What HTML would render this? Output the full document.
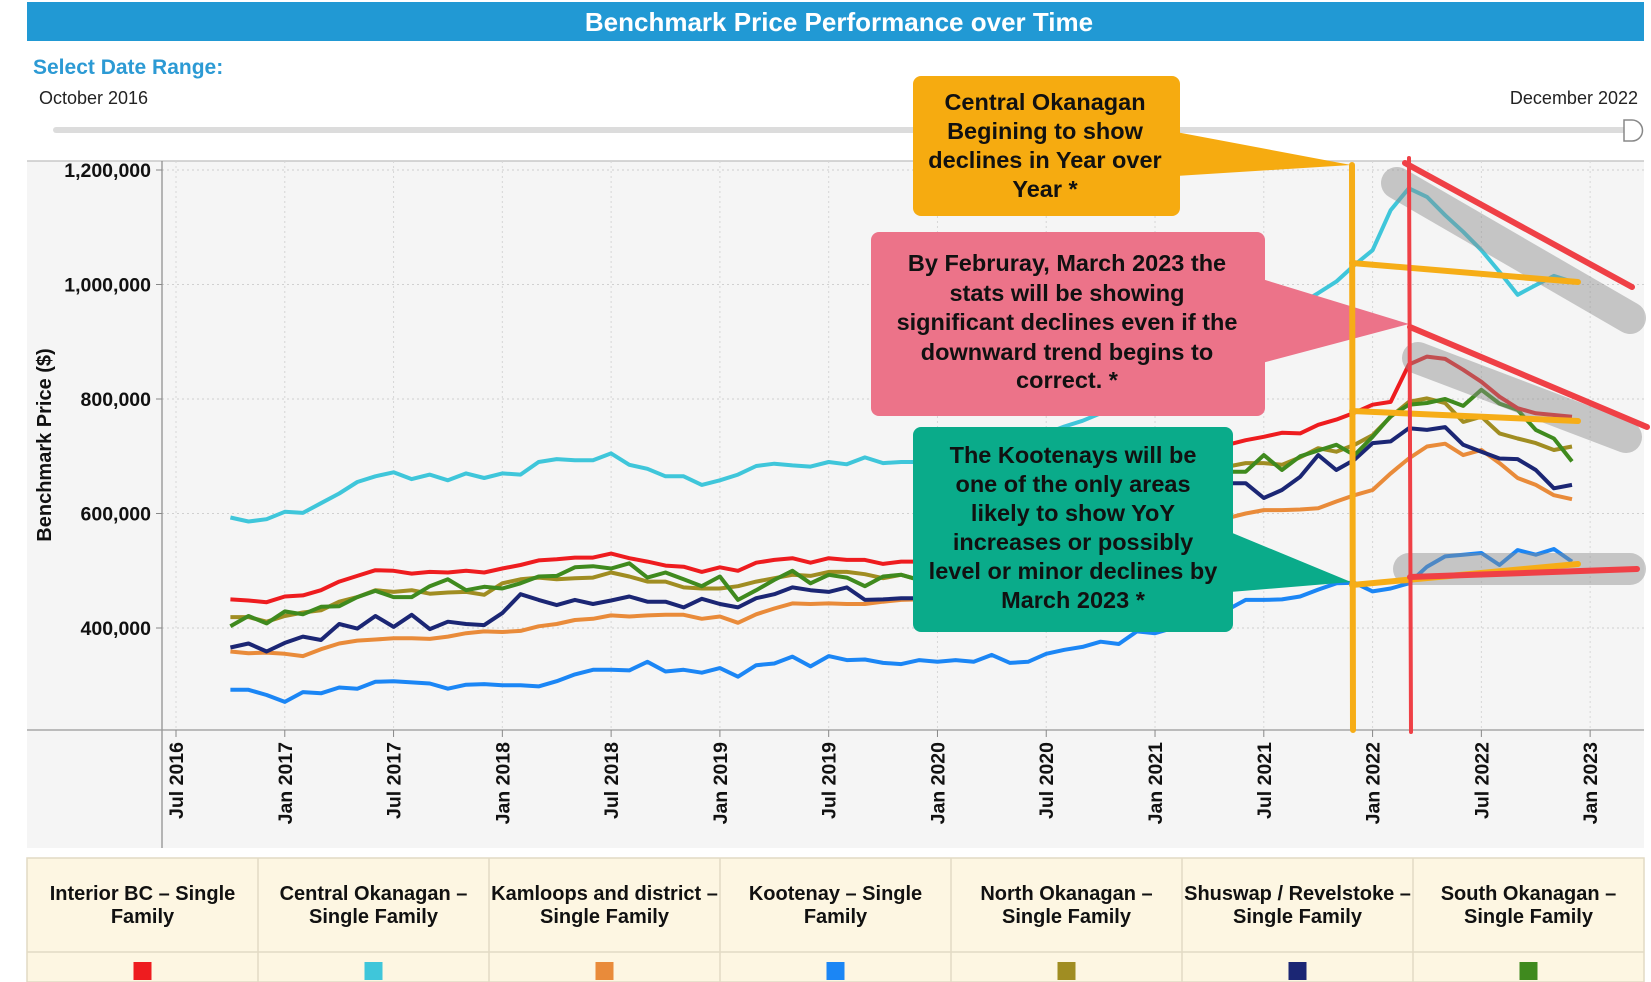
<!DOCTYPE html>
<html><head><meta charset="utf-8">
<style>
html,body{margin:0;padding:0;background:#fff;}
svg{display:block;font-family:"Liberation Sans",Arial,sans-serif;}
</style></head>
<body>
<svg id="chart" width="1651" height="982" viewBox="0 0 1651 982">
  <rect x="27" y="2" width="1617" height="39" fill="#2199d4"/>
  <text x="839" y="31" text-anchor="middle" font-size="26" font-weight="bold" fill="#fff">Benchmark Price Performance over Time</text>
  <text x="33" y="74" font-size="21" font-weight="bold" fill="#2c9ad4">Select Date Range:</text>
  <text x="39" y="104" font-size="18" fill="#222">October 2016</text>
  <text x="1638" y="104" text-anchor="end" font-size="18" fill="#222">December 2022</text>
  <rect x="53" y="127" width="1580" height="6" rx="3" fill="#dcdcdc"/>
  <path d="M1624 120 h8 a10 10 0 0 1 0 21 h-8 z" fill="#fff" stroke="#888" stroke-width="1.5"/>
  <rect x="27" y="161" width="1617" height="687" fill="#f5f5f5"/>
  <line x1="27" y1="161" x2="1644" y2="161" stroke="#c8c8c8" stroke-width="1.5"/>
  <g id="grid"></g>
  <line x1="162" y1="161" x2="162" y2="848" stroke="#888" stroke-width="1.2"/>
  <line x1="27" y1="730" x2="1644" y2="730" stroke="#999" stroke-width="1.2"/>
  <text transform="translate(51,445) rotate(-90)" text-anchor="middle" font-size="20" font-weight="bold" fill="#111">Benchmark Price ($)</text>
  <g id="yticks"></g>
  <g id="xticks"></g>
  <g id="series"></g>

  <g>
    <g stroke="rgba(140,140,140,0.45)" stroke-width="32" stroke-linecap="round" fill="none">
      <line x1="1397" y1="183" x2="1630" y2="318"/>
      <line x1="1418" y1="358" x2="1626" y2="437"/>
      <line x1="1409" y1="569" x2="1630" y2="569"/>
    </g>
    <rect x="913" y="76" width="267" height="140" rx="8" fill="#f6ab10"/>
    <polygon points="1176,132 1176,176 1351,165" fill="#f6ab10"/>
    <g font-size="23.5" font-weight="bold" fill="#111" text-anchor="middle">
      <text x="1045" y="110">Central Okanagan</text>
      <text x="1045" y="139">Begining to show</text>
      <text x="1045" y="168">declines in Year over</text>
      <text x="1045" y="197">Year *</text>
    </g>
    <rect x="871" y="232" width="394" height="184" rx="8" fill="#ec7389"/>
    <polygon points="1262,279 1262,363 1409,324" fill="#ec7389"/>
    <g font-size="23.5" font-weight="bold" fill="#111" text-anchor="middle">
      <text x="1067" y="271">By Februray, March 2023 the</text>
      <text x="1067" y="301">stats will be showing</text>
      <text x="1067" y="330">significant declines even if the</text>
      <text x="1067" y="360">downward trend begins to</text>
      <text x="1067" y="388">correct. *</text>
    </g>
    <rect x="913" y="427" width="320" height="205" rx="8" fill="#0aab8a"/>
    <polygon points="1230,532 1230,592 1351,582" fill="#0aab8a"/>
    <g font-size="23.5" font-weight="bold" fill="#111" text-anchor="middle">
      <text x="1073" y="463">The Kootenays will be</text>
      <text x="1073" y="492">one of the only areas</text>
      <text x="1073" y="521">likely to show YoY</text>
      <text x="1073" y="550">increases or possibly</text>
      <text x="1073" y="579">level or minor declines by</text>
      <text x="1073" y="608">March 2023 *</text>
    </g>
    <g stroke="#f6ad17" stroke-width="6" stroke-linecap="round">
      <line x1="1352" y1="165" x2="1353" y2="730"/>
      <line x1="1352" y1="263" x2="1578" y2="282"/>
      <line x1="1352" y1="411" x2="1578" y2="421"/>
      <line x1="1352" y1="585" x2="1578" y2="564"/>
    </g>
    <g stroke="#ef4046" stroke-width="5" stroke-linecap="round">
      <line x1="1409" y1="158" x2="1411" y2="732" stroke-width="4"/>
      <line x1="1405" y1="163" x2="1632" y2="287" stroke-width="6"/>
      <line x1="1410" y1="327" x2="1647" y2="427" stroke-width="6"/>
      <line x1="1410" y1="577" x2="1637" y2="569" stroke-width="6"/>
    </g>
  </g>

  <g id="legend">
    <rect x="27" y="858" width="1617" height="124" fill="#fdf6e2" stroke="#e2dac4" stroke-width="1.5"/>
    <line x1="27" y1="952" x2="1644" y2="952" stroke="#e2dac4" stroke-width="1.5"/>
  </g>
</svg>
<script>
const months = 75; // Oct 2016 .. Dec 2022
const xTickLabels = ["Jul 2016","Jan 2017","Jul 2017","Jan 2018","Jul 2018","Jan 2019","Jul 2019","Jan 2020","Jul 2020","Jan 2021","Jul 2021","Jan 2022","Jul 2022","Jan 2023"];
const yTickValues = [400000,600000,800000,1000000,1200000];
const yTickLabels = ["400,000","600,000","800,000","1,000,000","1,200,000"];
const seriesNames = ["Interior BC – Single Family","Central Okanagan – Single Family","Kamloops and district – Single Family","Kootenay – Single Family","North Okanagan – Single Family","Shuswap / Revelstoke – Single Family","South Okanagan – Single Family"];
const seriesColors = ["#ee1c1f","#3fc6da","#e98b3a","#1b86f5","#a08d22","#1b2674","#3f8a1e"];
const interiorBC = [450,448,445,455,457,466,481,491,501,500,495,498,497,500,497,504,510,518,520,523,523,530,522,516,509,507,498,506,500,514,519,522,514,522,519,519,512,516,516,520,525,530,540,548,560,575,590,605,620,640,655,670,685,695,705,720,728,734,741,740,755,764,776,790,795,860,874,870,851,830,804,784,775,772,769];
const centralOkanagan = [593,586,590,603,601,618,635,655,665,672,660,668,658,670,662,670,668,690,695,693,693,705,685,678,665,665,650,658,668,683,687,684,682,690,686,698,688,690,690,695,700,695,705,715,725,740,752,762,775,790,805,825,850,880,905,935,960,970,985,966,985,1005,1034,1060,1130,1168,1153,1121,1092,1060,1022,982,999,1015,1005];
const kamloops = [359,356,357,355,351,363,373,378,380,382,382,381,385,391,394,393,395,403,407,414,416,422,420,422,423,423,416,420,409,424,434,443,442,443,442,442,446,449,450,452,455,458,462,468,475,485,495,505,515,525,540,555,565,575,585,592,600,606,606,607,609,621,632,641,670,696,717,722,702,711,688,662,650,632,625];
const kootenay = [292,292,283,271,288,286,296,294,306,307,305,303,294,301,302,300,300,298,307,319,327,327,326,341,324,327,322,330,315,335,338,350,333,351,344,345,339,337,344,341,344,341,353,339,341,355,362,367,376,372,394,391,400,415,430,432,449,449,450,455,467,478,479,464,469,478,507,525,528,531,510,536,528,538,516];
const northOkanagan = [419,419,411,421,427,431,446,454,466,463,466,460,462,463,458,478,485,488,485,487,488,497,490,481,481,471,469,469,473,481,487,493,491,498,498,494,487,493,484,490,495,500,505,515,525,540,555,570,590,605,620,635,650,660,672,682,688,688,685,698,714,708,720,737,769,795,801,793,760,769,740,731,723,711,717];
const shuswap = [366,373,359,374,385,379,407,399,421,402,423,398,411,407,405,426,459,449,440,449,442,448,455,446,446,436,451,442,436,452,459,471,466,463,471,449,450,452,452,455,460,465,470,478,488,500,515,530,545,560,578,595,610,625,640,653,653,627,641,664,702,676,694,723,726,749,746,751,720,708,696,695,676,644,650];
const southOkanagan = [403,421,408,429,424,437,438,454,465,454,454,473,485,466,472,469,478,490,491,506,508,504,513,488,497,485,473,490,449,466,484,500,478,493,488,473,490,493,484,488,492,498,505,512,522,535,550,565,585,600,615,630,645,655,665,673,673,702,676,700,710,720,702,734,770,790,793,800,788,816,792,781,746,731,691];

const NS = "http://www.w3.org/2000/svg";
function xScale(m){ return 176 + m * 18.13; }
function yScale(v){ return 170 + (1200000 - v) / 1000 * 0.5725; }

const grid = document.getElementById('grid');
const yt = document.getElementById('yticks');
yTickValues.forEach((v, i) => {
  const y = yScale(v);
  const l = document.createElementNS(NS, 'line');
  l.setAttribute('x1', 162); l.setAttribute('x2', 1644);
  l.setAttribute('y1', y); l.setAttribute('y2', y);
  l.setAttribute('stroke', '#d0d0d0'); l.setAttribute('stroke-dasharray', '2 3');
  
  
  grid.appendChild(l);
  const tk = document.createElementNS(NS, 'line');
  tk.setAttribute('x1', 156); tk.setAttribute('x2', 162);
  tk.setAttribute('y1', y); tk.setAttribute('y2', y);
  tk.setAttribute('stroke', '#888');
  yt.appendChild(tk);
  const t = document.createElementNS(NS, 'text');
  t.setAttribute('x', 151); t.setAttribute('y', y + 7);
  t.setAttribute('text-anchor', 'end'); t.setAttribute('font-size', '19.5');
  t.setAttribute('font-weight', 'bold'); t.setAttribute('fill', '#111');
  t.textContent = yTickLabels[i];
  
  
  yt.appendChild(t);
});
const xt = document.getElementById('xticks');
xTickLabels.forEach((lab, i) => {
  const x = xScale(i * 6);
  const l = document.createElementNS(NS, 'line');
  l.setAttribute('x1', x); l.setAttribute('x2', x);
  l.setAttribute('y1', 161); l.setAttribute('y2', 730);
  l.setAttribute('stroke', '#d6d6d6'); l.setAttribute('stroke-dasharray', '2 3');
  
  
  grid.appendChild(l);
  const tk = document.createElementNS(NS, 'line');
  tk.setAttribute('x1', x); tk.setAttribute('x2', x);
  tk.setAttribute('y1', 730); tk.setAttribute('y2', 737);
  tk.setAttribute('stroke', '#888');
  xt.appendChild(tk);
  const t = document.createElementNS(NS, 'text');
  t.setAttribute('transform', `translate(${x + 7},742) rotate(-90)`);
  t.setAttribute('text-anchor', 'end'); t.setAttribute('font-size', '19.5');
  t.setAttribute('font-weight', 'bold'); t.setAttribute('fill', '#111');
  t.textContent = lab;
  
  
  xt.appendChild(t);
});

const allSeries = [interiorBC, centralOkanagan, kamloops, kootenay, northOkanagan, shuswap, southOkanagan];
const drawOrder = [1, 3, 2, 5, 4, 6, 0];
const sg = document.getElementById('series');
drawOrder.forEach(si => {
  const data = allSeries[si];
  const pts = data.map((v, k) => xScale(k + 3).toFixed(1) + ',' + yScale(v * 1000).toFixed(1)).join(' ');
  const p = document.createElementNS(NS, 'polyline');
  p.setAttribute('points', pts);
  p.setAttribute('fill', 'none');
  p.setAttribute('stroke', seriesColors[si]);
  p.setAttribute('stroke-width', '4');
  p.setAttribute('stroke-linejoin', 'round');
  
  
  sg.appendChild(p);
});

const lg = document.getElementById('legend');
const colW = 1617 / 7;
seriesNames.forEach((name, i) => {
  const cx = 27 + colW * i + colW / 2;
  if (i > 0) {
    const d = document.createElementNS(NS, 'line');
    d.setAttribute('x1', 27 + colW * i); d.setAttribute('x2', 27 + colW * i);
    d.setAttribute('y1', 858); d.setAttribute('y2', 982);
    d.setAttribute('stroke', '#e2dac4'); d.setAttribute('stroke-width', '1.5');
    lg.appendChild(d);
  }
  const parts = name.split(' – ');
  let l1, l2;
  if (i === 0) { l1 = 'Interior BC – Single'; l2 = 'Family'; }
  else if (i === 3) { l1 = 'Kootenay – Single'; l2 = 'Family'; }
  else { l1 = parts[0] + ' –'; l2 = parts[1]; }
  [l1, l2].forEach((s, j) => {
    const t = document.createElementNS(NS, 'text');
    t.setAttribute('x', cx); t.setAttribute('y', 900 + j * 23);
    t.setAttribute('text-anchor', 'middle'); t.setAttribute('font-size', '20');
    t.setAttribute('font-weight', 'bold'); t.setAttribute('fill', '#111');
    t.textContent = s;
    
    
    lg.appendChild(t);
  });
  const r = document.createElementNS(NS, 'rect');
  r.setAttribute('x', cx - 9); r.setAttribute('y', 962);
  r.setAttribute('width', 18); r.setAttribute('height', 18);
  r.setAttribute('fill', seriesColors[i]);
  
  
  lg.appendChild(r);
});
</script>
</body></html>
